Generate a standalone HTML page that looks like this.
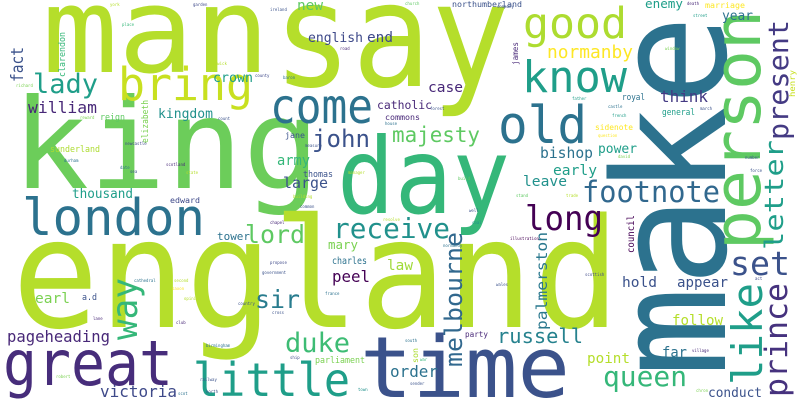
<!DOCTYPE html>
<html><head><meta charset="utf-8">
<style>
html,body{margin:0;padding:0;background:#fff;}
svg{display:block;}
text{font-family:"DejaVu Sans Mono","Liberation Mono",monospace;}
</style></head>
<body>
<svg id="cloud" width="800" height="400" viewBox="0 0 800 400" xmlns="http://www.w3.org/2000/svg">
<rect x="0" y="0" width="800" height="400" fill="#ffffff"/>
</svg>
<script>
const words = ["man","say","king","england","make","day","time","great","london","little","person","like","know","good","old","come","bring","letter","present","prince","footnote","long","receive","lord","sir","duke","queen","russell","melbourne","palmerston","majesty","john","way","set","peel","pageheading","victoria","normanby","william","lady","kingdom","crown","army","large","thousand","bishop","early","leave","power","think","case","enemy","year","english","end","new","fact","hold","appear","follow","point","far","order","conduct","earl","law","catholic","clarendon","elizabeth","reign","sunderland","thomas","jane","commons","mary","charles","tower","a.d","parliament","edward","northumberland","marriage","royal","general","sidenote","james","henry","council","party","son",
"york","garden","ireland","place","richard","berwick","county","baron","road","reward","count","newcastle","durham","scotland","date","sea","state","manager","building","measure","house","church","company","death","street","window","forest","father","castle","march","french","question","david","number","force","build","stand","trade","common","chapel","propose","government","cathedral","second","resolve","saxon","opinion","france","country","cross","lane","club","birmingham","ship","robert","railway","north","scot","town","well","coal","illustration","normandy","wales","scottish","south","war","sender","village","chron","act"];
const sizes = [119,145,125,152,156,105,85,62,51,46,65,42,44,43,52,48,45,26,28,31,29,34,28,25,25,27,28,20,24,15,21,24,36,33,16,16,16,18,16,27,13,13,14,15,13,15,14.6,14.6,13,16,14.5,12.7,13,13,14,14,17,14.6,14,14,14.5,14,16,13,14.6,14,11.5,9,9,9,9,9,8,8.3,12,10,11,9,9,8,8.3,8.3,9,9,8,8,8,10,8,8,
4,4,4,4,4,4,4,4,4,4,4,4,4,4,4,4,4,4,4,4,4,4,4,4,4,4,4,4,4,4,4,4,4,4,4,4,4,4,4,4,4,4,4,4,4,4,4,4,4,4,4,4,4,4,4,4,4,4,4,4,4,4,4,4,4,4,4,4,4,4,4];
const colors = ["#b5de2b","#b5de2b","#6ccd5a","#b5de2b","#2c728e","#35b779","#3b528b","#472d7b","#2c728e","#1f9e89","#5ec962","#1f9e89","#1f9e89","#addc30","#2c728e","#2c728e","#c8e020","#1f9e89","#443a83","#46327e","#31688e","#440154","#21918c","#5ec962","#287c8e","#3dbc74","#35b779","#26828e","#31688e","#2a788e","#5ec962","#3b528b","#35b779","#3b528b","#440154","#482878","#3e4989","#fde725","#482878","#1f9e89","#21918c","#1f9e89","#35b779","#3b528b","#1f9e89","#2c728e","#1f9e89","#21918c","#1f9e89","#443a83","#482878","#1f9e89","#2c728e","#3e4989","#3e4989","#5ec962","#3b528b","#3b528b","#3b528b","#b5de2b","#b5de2b","#2c728e","#2c728e","#3b528b","#7ad151","#a0da39","#482878","#35b779","#7ad151","#5ec962","#addc30","#3b528b","#3b528b","#482878","#7ad151","#2c728e","#2c728e","#3b528b","#7ad151","#3e4989","#3b528b","#fde725","#2c728e","#1f9e89","#fde725","#482878","#c8e020","#440154","#482878","#addc30",
"#b5de2b","#3e4989","#3b528b","#35b779","#7ad151","#b5de2b","#3e4989","#2c728e","#482878","#7ad151","#3b528b","#3e4989","#2c728e","#482878","#2c728e","#3b528b","#b5de2b","#b5de2b","#b5de2b","#3b528b","#2c728e","#5ec962","#3b528b","#482878","#1f9e89","#7ad151","#3b528b","#1f9e89","#2c728e","#3b528b","#1f9e89","#fde725","#7ad151","#3b528b","#3b528b","#5ec962","#5ec962","#b5de2b","#3b528b","#482878","#3e4989","#3b528b","#2c728e","#b5de2b","#b5de2b","#fde725","#b5de2b","#2c728e","#3b528b","#3b528b","#482878","#482878","#2c728e","#3e4989","#7ad151","#3b528b","#3b528b","#2c728e","#21918c","#3b528b","#21918c","#440154","#2c728e","#3b528b","#3e4989","#2c728e","#35b779","#3b528b","#482878","#7ad151","#3e4989"];
const posX = [42,273,12,12,725,337,360,3,22,193,760,762,522,523,498,270,118,783,788,787,582,525,333,245,255,285,603,497,462,547,392,312,137,730,332,7,100,547,28,33,158,213,277,283,72,540,553,523,598,660,428,645,722,308,367,297,23,622,677,672,587,662,390,708,35,387,377,65,148,100,50,303,285,385,328,332,217,82,315,170,452,705,622,662,595,518,795,634,465,418,
110,193,270,122,16,210,255,283,340,80,218,125,64,166,120,130,186,348,293,305,385,405,497,687,693,665,430,572,608,700,612,598,618,745,750,458,516,566,300,270,270,262,134,174,383,172,184,325,238,272,93,176,206,290,56,200,206,178,358,469,472,510,443,496,585,405,420,410,692,696,755];
const posY = [72,86,188,327,377,213,397,385,235,396,250,385,92,38,143,123,100,250,140,397,202,230,238,243,308,352,386,343,367,330,142,147,340,275,282,342,397,58,113,93,118,82,165,188,198,158,175,186,153,102,92,8,20,42,42,10,82,287,287,325,363,357,377,397,303,270,109,77,143,120,152,177,138,120,249,264,240,300,363,203,7,8,100,115,130,65,97,253,337,363,
6,6,11,26,87,65,77,79,50,119,120,145,162,166,169,173,174,174,198,147,125,5,8,5,17,50,110,100,108,110,117,137,158,159,172,180,197,197,208,224,264,274,282,282,221,290,300,295,305,314,320,324,347,359,378,381,393,395,391,212,224,240,247,286,276,342,361,385,352,392,280];
const rotated = [0,0,0,0,1,0,0,0,0,0,1,1,0,0,0,0,0,1,1,1,0,0,0,0,0,0,0,0,1,1,0,0,1,0,0,0,0,0,0,0,0,0,0,0,0,0,0,0,0,0,0,0,0,0,0,0,1,0,0,0,0,0,0,0,0,0,0,1,1,0,0,0,0,0,0,0,0,0,0,0,0,0,0,0,0,1,1,1,0,1];
const spans = [228,237,308,608,362,173,210,170,183,157,240,102,105,104,89,103,135,110,120,114,138,78,117,60,45,65,84,86,135,98,88,58,62,60,38,103,77,86,69,65,55,40,33,45,61,53,44,44,39,48,35,38,31,55,26,26,35,35,51,51,43,25,48,54,35,26,55,45,43,25,50,30,20,35,30,35,33,15,50,30,70,40,23,33,38,23,27,38,23,15];

const svg = document.getElementById('cloud');
const NS = 'http://www.w3.org/2000/svg';
for (let i = 0; i < words.length; i++) {
  const t = document.createElementNS(NS, 'text');
  
  
  t.setAttribute('x', posX[i]);
  t.setAttribute('y', posY[i]);
  t.setAttribute('font-size', sizes[i] || 4);
  t.setAttribute('fill', colors[i] || '#3b528b');
  if (spans[i]) {
    t.setAttribute('textLength', spans[i]);
    t.setAttribute('lengthAdjust', 'spacingAndGlyphs');
  }
  if (rotated[i]) t.setAttribute('transform', 'rotate(-90 ' + posX[i] + ' ' + posY[i] + ')');
  t.textContent = words[i];
  svg.appendChild(t);
}
</script>
</body></html>
